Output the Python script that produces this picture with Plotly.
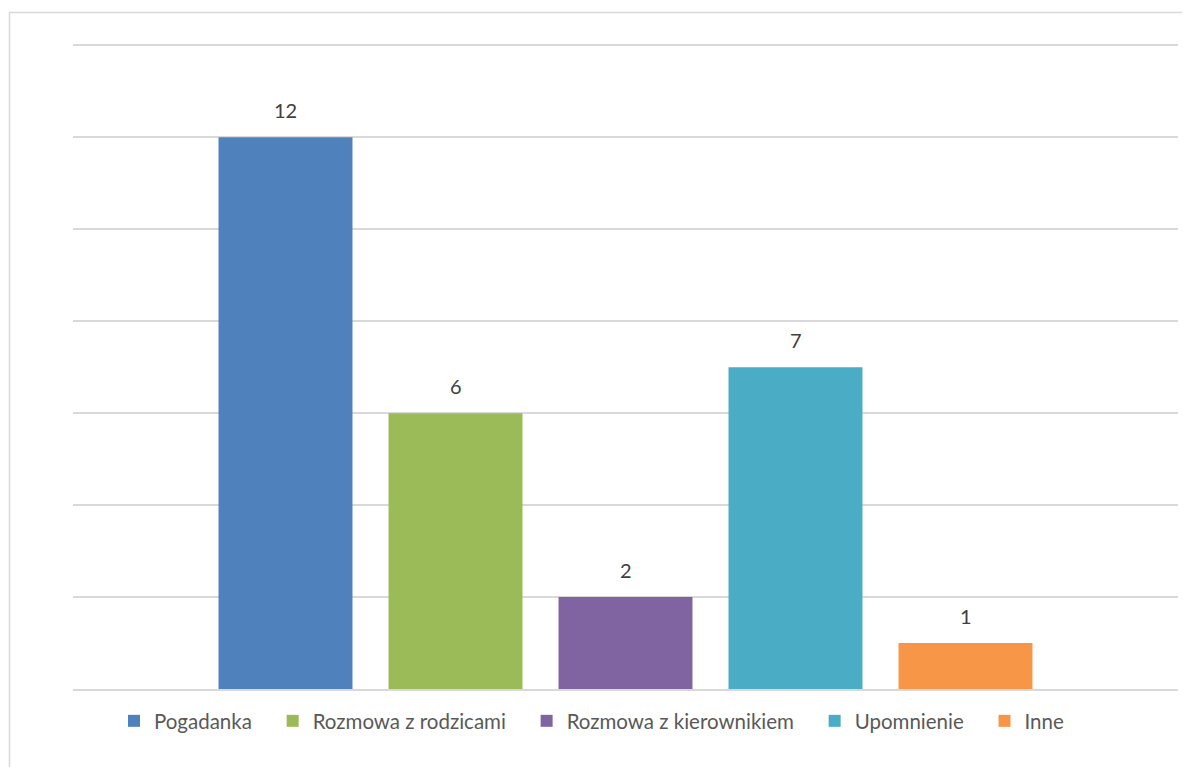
import plotly.graph_objects as go

series_names = ["Pogadanka", "Rozmowa z rodzicami", "Rozmowa z kierownikiem", "Upomnienie", "Inne"]
series_values = [12, 6, 2, 7, 1]
series_colors = ["#4F81BD", "#9BBB59", "#8064A2", "#4BACC6", "#F79646"]

OFF = 8  # page body margin
W, H = 1190 - OFF, 767 - OFF
L, R, T, B = 73 - OFF, 12, 35, 78
pw, ph = W - L - R, H - T - B

LEGEND_PAD = "\u00a0\u00a0\u00a0"

fig = go.Figure()
for name, val, col in zip(series_names, series_values, series_colors):
    fig.add_trace(go.Bar(
        x=[name], y=[val], name=name + LEGEND_PAD,
        marker=dict(color=col, line=dict(width=0)),
    ))
    fig.add_annotation(x=name, y=val, text=str(val), showarrow=False,
                       yanchor="middle", yshift=27,
                       font=dict(size=20, color="#404040", family="Lato"))

def px_x(p):
    return (p - OFF - L) / pw

def px_y(p):
    return (H - B - (p - OFF)) / ph

fig.add_shape(type="rect", xref="paper", yref="paper",
              x0=px_x(9.5), x1=px_x(1250), y0=px_y(12.5), y1=px_y(820),
              line=dict(color="#D9D9D9", width=1.5), fillcolor="rgba(0,0,0,0)", layer="below")

fig.update_layout(
    width=W, height=H,
    margin=dict(l=L, r=R, t=T, b=B),
    paper_bgcolor="white", plot_bgcolor="white",
    barmode="overlay", bargap=0.212,
    font=dict(family="Lato", color="#595959"),
    showlegend=True,
    legend=dict(orientation="h", x=px_x(114), xanchor="left", y=px_y(721), yanchor="middle",
                font=dict(size=20.5, color="#595959", family="Lato"),
                itemwidth=30, traceorder="normal"),
    xaxis=dict(type="category", categoryorder="array", categoryarray=series_names,
               range=[-1.25, 5.25], showticklabels=False, showgrid=False, zeroline=False,
               showline=True, linecolor="#D9D9D9", linewidth=1.5, ticks=""),
    yaxis=dict(range=[0, 14.05], tickvals=[0, 2, 4, 6, 8, 10, 12, 14], showticklabels=False,
               showgrid=True, gridcolor="#D9D9D9", gridwidth=1.5, zeroline=False,
               showline=False, ticks=""),
)

fig.write_html("out.html")
